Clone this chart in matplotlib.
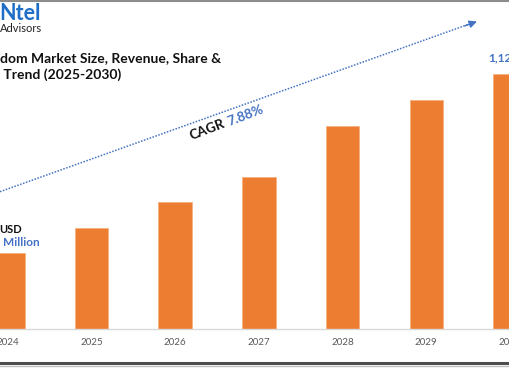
import numpy as np
import matplotlib
matplotlib.use("Agg")
from matplotlib import pyplot as plt
from matplotlib.lines import Line2D

# data (USD million)
years = ["2024", "2025", "2026", "2027", "2028", "2029", "2030"]
values = [335, 448, 560, 673, 898, 1011, 1125]
cagr = "7.88%"
last_label = "1,125.00"

W, H = 510, 369
plt.rcParams['font.family'] = ['Lato', 'DejaVu Sans']

fig = plt.figure(figsize=(W / 100, H / 100), dpi=100)

def px(x, y):
    # pixel position -> figure fraction
    return x / W, 1 - y / H

# axes placed so the baseline sits at y=329 and bars step ~84.6px
base_y = 329.3
ax = fig.add_axes([0, (H - base_y) / H, 1, base_y / H])
step = 84.6
x0 = 7.9
ax.set_xlim(-x0 / step, (W - x0) / step)
ax.set_ylim(0, values[-1] * base_y / 255.0)

xs = np.arange(len(years))
ax.bar(xs, values, width=0.4, color="#ED7D31", edgecolor="#F6B07F", linewidth=0.6, zorder=2)
ax.set_xticks(xs)
ax.set_xticklabels(years, fontsize=7, color="#595959")
ax.tick_params(axis="x", length=0, pad=6)
ax.set_yticks([])
for s in ["top", "left", "right"]:
    ax.spines[s].set_visible(False)
ax.spines["bottom"].set_color("#D9D9D9")
ax.spines["bottom"].set_linewidth(1.0)
ax.patch.set_alpha(0)

# logo
fig.text(*px(-1, 20), "Ntel", fontsize=15.5, fontweight="bold", color="#1F6FC8", va="baseline", ha="left")
fig.text(*px(0, 32), "Advisors", fontsize=8, color="#222222", va="baseline", ha="left")

# title (cropped on the left)
fig.text(*px(0, 62), "dom Market Size, Revenue, Share &", fontsize=10, fontweight="bold",
         color="#111111", va="baseline", ha="left")
fig.text(*px(0, 79), " Trend (2025-2030)", fontsize=10, fontweight="bold",
         color="#111111", va="baseline", ha="left")

# first / last value labels
fig.text(*px(-1, 233), "USD", fontsize=8, fontweight="bold", color="#111111", va="baseline", ha="left")
fig.text(*px(3, 246), "Million", fontsize=8.5, fontweight="bold", color="#4472C4", va="baseline", ha="left")
fig.text(*px(488, 61), last_label, fontsize=8.5, fontweight="bold", color="#4472C4", va="baseline", ha="left")

# dotted CAGR arrow
fig.add_artist(Line2D([0, 470 / W], [px(0, 191.7)[1], px(470, 23.8)[1]], transform=fig.transFigure,
                      color="#4472C4", linestyle=(0, (1, 1)), linewidth=1.1))
ax.annotate("", xy=px(477, 21.5), xycoords="figure fraction",
            xytext=px(465, 25.8), textcoords="figure fraction",
            arrowprops=dict(arrowstyle="-|>,head_length=0.45,head_width=0.22",
                            color="#4472C4", lw=1.0, shrinkA=0, shrinkB=0))

ang = 21
fig.text(*px(192, 140), "CAGR", fontsize=9.7, fontweight="bold", color="#111111",
         rotation=ang, rotation_mode="anchor", ha="left", va="baseline")
d = 40
fig.text(*px(192 + d * np.cos(np.radians(ang)), 140 - d * np.sin(np.radians(ang))), cagr,
         fontsize=9.7, fontweight="bold", color="#4472C4",
         rotation=ang, rotation_mode="anchor", ha="left", va="baseline")

# frame lines
fig.add_artist(Line2D([0, 1], [px(0, 1)[1]] * 2, transform=fig.transFigure, color="#8C8C8C", lw=1.5))
fig.add_artist(Line2D([0, 1], [px(0, 363.3)[1]] * 2, transform=fig.transFigure, color="#4D4D4D", lw=2.2))
fig.add_artist(Line2D([0, 1], [px(0, 366)[1]] * 2, transform=fig.transFigure, color="#BFBFBF", lw=1.0))

fig.savefig("out.png", dpi=100)
